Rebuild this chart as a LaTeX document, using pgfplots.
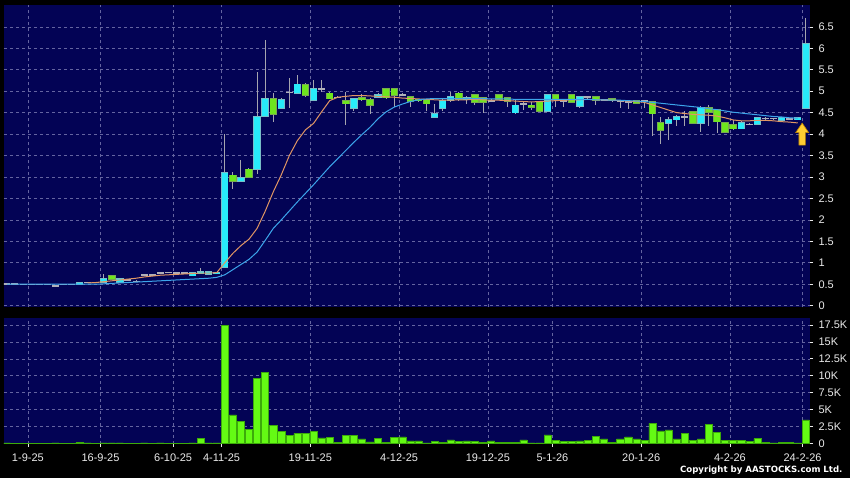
\documentclass[border=0pt]{standalone}
\usepackage{pgfplots}
\pgfplotsset{compat=1.18}
\usepackage{pgfplotstable}
\usepackage{fontspec}
\setmainfont{Liberation Sans}
\newfontfamily\cfont{DejaVu Sans}

\definecolor{panelbg}{RGB}{3,3,85}
\definecolor{gridc}{RGB}{100,100,160}
\definecolor{cyanf}{RGB}{40,235,250}
\definecolor{cyanb}{RGB}{120,190,200}
\definecolor{greenf}{RGB}{110,230,30}
\definecolor{greenb}{RGB}{120,170,80}
\definecolor{wick}{RGB}{165,165,175}
\definecolor{doji}{RGB}{175,175,185}
\definecolor{maor}{RGB}{225,150,100}
\definecolor{mabl}{RGB}{60,165,235}
\definecolor{vgreen}{RGB}{100,250,20}
\definecolor{vborder}{RGB}{60,170,10}
\definecolor{arrowf}{RGB}{255,205,50}
\definecolor{arrowd}{RGB}{190,130,0}
\definecolor{ticktext}{RGB}{235,235,235}

\pgfdeclareplotmark{uparrow}{%
  \pgfpathmoveto{\pgfpoint{0pt}{11pt}}%
  \pgfpathlineto{\pgfpoint{6.5pt}{1.5pt}}%
  \pgfpathlineto{\pgfpoint{3.2pt}{1.5pt}}%
  \pgfpathlineto{\pgfpoint{3.2pt}{-11pt}}%
  \pgfpathlineto{\pgfpoint{-3.2pt}{-11pt}}%
  \pgfpathlineto{\pgfpoint{-3.2pt}{1.5pt}}%
  \pgfpathlineto{\pgfpoint{-6.5pt}{1.5pt}}%
  \pgfpathclose
  \pgfusepathqfillstroke
}

\pgfplotsset{
  chartbase/.style={
    scale only axis, width=806pt,
    xmin=-3.36, xmax=96.52,
    axis background/.style={fill=panelbg},
    axis line style={draw=none},
    grid=major,
    major grid style={gridc, dash pattern=on 3pt off 3pt, line width=0.6pt},
    xtick={-0.4,8.6,17.6,23.6,34.6,45.6,56.6,64.6,75.6,86.6,95.6},
    ytick pos=right, yticklabel pos=right,
    tick align=outside, major tick length=3pt,
    tick style={ticktext, line width=0.7pt},
    tick label style={font=\fontsize{11}{12}\selectfont, text=ticktext},
    yticklabel style={xshift=2pt},
    /pgf/number format/assume math mode=true,
  },
  body/.style 2 args={draw=none, mark=none, forget plot,
    error bars/.cd, y dir=both, y explicit, error mark=none,
    error bar style={draw=#1, line width=#2}},
}

% candles: index, open, high, low, close
\pgfplotstableread{
i o h l c
6 0.50 0.55 0.50 0.54
9 0.55 0.74 0.55 0.62
11 0.55 0.62 0.55 0.62
20 0.70 0.76 0.70 0.76
21 0.76 0.88 0.76 0.78
22 0.74 0.78 0.74 0.78
23 0.76 0.78 0.76 0.77
24 0.90 4.00 0.88 3.10
26 2.91 3.40 2.90 2.98
28 3.18 5.45 3.07 4.40
29 4.42 6.20 4.40 4.83
31 4.60 4.85 4.58 4.79
33 4.96 5.37 4.95 5.16
35 4.79 5.27 4.78 5.06
40 4.60 4.84 4.55 4.83
43 4.87 4.95 4.85 4.92
50 4.40 4.71 4.40 4.48
51 4.60 4.83 4.55 4.77
52 4.79 4.98 4.74 4.87
54 4.81 4.89 4.71 4.85
60 4.50 4.79 4.48 4.67
64 4.54 4.93 4.52 4.91
68 4.65 4.89 4.61 4.87
79 4.25 4.40 3.86 4.34
80 4.34 4.45 4.20 4.40
83 4.26 4.66 4.05 4.62
88 4.13 4.30 4.12 4.27
90 4.23 4.40 4.21 4.38
93 4.33 4.39 4.32 4.38
95 4.34 4.39 4.33 4.38
96 4.60 6.70 4.58 6.11
}\up

\pgfplotstableread{
i o h l c
10 0.69 0.70 0.60 0.62
25 3.04 3.12 2.73 2.91
27 3.18 3.22 2.98 2.99
30 4.83 4.95 4.29 4.46
34 5.14 5.20 4.87 4.91
37 4.95 4.97 4.82 4.83
39 4.77 4.98 4.21 4.71
41 4.85 4.93 4.78 4.81
42 4.79 4.85 4.48 4.67
44 5.06 5.08 4.83 4.85
45 5.06 5.08 4.64 4.91
47 4.87 4.90 4.64 4.77
48 4.81 4.83 4.76 4.79
49 4.79 4.81 4.54 4.71
53 4.95 4.97 4.78 4.81
55 4.91 4.92 4.67 4.75
56 4.84 4.86 4.50 4.74
58 4.91 4.93 4.80 4.81
59 4.85 4.87 4.64 4.77
62 4.67 4.74 4.56 4.63
63 4.75 4.77 4.54 4.54
65 4.91 4.92 4.64 4.81
67 4.91 4.92 4.72 4.74
70 4.87 4.89 4.68 4.80
72 4.83 4.85 4.76 4.78
75 4.78 4.80 4.70 4.73
77 4.75 4.77 3.95 4.48
78 4.26 4.40 3.78 4.09
82 4.52 4.54 4.26 4.26
84 4.62 4.67 4.20 4.52
85 4.56 4.58 4.02 4.29
86 4.26 4.28 4.05 4.05
87 4.22 4.32 4.10 4.13
}\down

\pgfplotstableread{
i o h l c
-3 0.51 0.52 0.50 0.51
-2 0.51 0.52 0.50 0.51
-1 0.50 0.50 0.50 0.50
0 0.50 0.50 0.50 0.50
1 0.50 0.51 0.49 0.50
2 0.50 0.50 0.50 0.50
3 0.47 0.47 0.46 0.47
4 0.50 0.50 0.50 0.50
5 0.50 0.50 0.50 0.50
7 0.545 0.55 0.54 0.545
8 0.545 0.56 0.54 0.545
12 0.60 0.60 0.60 0.60
13 0.57 0.60 0.55 0.57
14 0.72 0.74 0.70 0.72
15 0.72 0.72 0.71 0.72
16 0.76 0.76 0.76 0.76
17 0.78 0.78 0.78 0.78
18 0.77 0.77 0.77 0.77
19 0.77 0.78 0.77 0.77
32 4.97 5.30 4.60 4.97
36 5.05 5.27 4.98 5.05
38 4.86 4.88 4.84 4.86
46 4.91 4.95 4.88 4.91
57 4.77 4.81 4.74 4.77
61 4.71 4.74 4.56 4.71
66 4.78 4.81 4.64 4.78
69 4.87 4.88 4.83 4.87
71 4.80 4.82 4.78 4.80
73 4.77 4.78 4.62 4.77
74 4.76 4.77 4.58 4.76
76 4.77 4.78 4.60 4.77
81 4.40 4.53 4.18 4.40
89 4.23 4.26 4.21 4.23
91 4.37 4.40 4.34 4.37
92 4.37 4.38 4.33 4.37
94 4.36 4.38 4.34 4.36
}\dojis

% moving averages (orange m1, blue m2)
\pgfplotstableread{
i m1 m2
-3 nan 0.50
0 nan 0.50
6 nan 0.50
7 0.53 0.50
8 0.54 0.50
9 0.56 0.51
10 0.58 0.52
11 0.60 0.53
12 0.62 0.54
13 0.64 0.55
14 0.67 0.56
15 0.69 0.57
16 0.71 0.58
17 0.72 0.59
18 0.73 0.60
19 0.74 0.61
20 0.75 0.62
21 0.76 0.63
22 0.76 0.64
23 0.77 0.66
24 1.00 0.72
25 1.22 0.84
26 1.40 0.96
27 1.55 1.08
28 1.80 1.25
29 2.20 1.52
30 2.65 1.80
31 3.05 2.00
32 3.50 2.21
33 3.85 2.42
34 4.10 2.62
35 4.25 2.82
36 4.52 3.03
37 4.78 3.24
38 4.86 3.43
39 4.88 3.62
40 4.90 3.81
41 4.90 3.99
42 4.89 4.16
43 4.88 4.36
44 4.87 4.52
45 4.86 4.63
46 4.84 4.70
47 4.83 4.76
48 4.82 4.80
49 4.81 4.82
50 4.80 4.83
51 4.79 4.83
52 4.79 4.83
53 4.80 4.83
54 4.80 4.83
55 4.81 4.83
56 4.80 4.83
57 4.79 4.82
58 4.79 4.82
59 4.78 4.82
60 4.77 4.81
61 4.76 4.81
62 4.75 4.81
63 4.76 4.81
64 4.77 4.81
65 4.78 4.81
66 4.79 4.81
67 4.80 4.81
68 4.80 4.81
69 4.81 4.81
70 4.80 4.80
71 4.80 4.80
72 4.79 4.79
73 4.78 4.79
74 4.77 4.78
75 4.76 4.77
76 4.74 4.76
77 4.68 4.74
78 4.62 4.72
79 4.56 4.70
80 4.50 4.68
81 4.48 4.66
82 4.46 4.64
83 4.45 4.62
84 4.44 4.59
85 4.42 4.57
86 4.38 4.54
87 4.33 4.51
88 4.31 4.49
89 4.31 4.47
90 4.32 4.45
91 4.32 4.43
92 4.31 4.41
93 4.29 4.40
94 4.28 4.38
95 4.26 4.37
}\ma

% volume in thousands
\pgfplotstableread{
i v
-3 0.05
-2 0.03
-1 0.02
0 0.03
1 0.02
2 0.02
3 0.05
4 0.02
5 0.02
6 0.10
7 0.05
8 0.04
9 0.08
10 0.06
11 0.05
12 0.02
13 0.04
14 0.06
15 0.04
16 0.05
17 0.04
18 0.03
19 0.03
20 0.08
21 0.74
22 0.05
23 0.05
24 17.45
25 4.20
26 3.30
27 2.10
28 9.64
29 10.50
30 2.70
31 1.72
32 1.18
33 1.48
34 1.48
35 1.78
36 0.79
37 0.89
38 0.10
39 1.23
40 1.18
41 0.64
42 0.20
43 0.74
44 0.15
45 0.89
46 0.94
47 0.35
48 0.35
49 0.05
50 0.25
51 0.10
52 0.50
53 0.30
54 0.35
55 0.30
56 0.10
57 0.35
58 0.15
59 0.10
60 0.15
61 0.50
62 0.05
63 0.05
64 1.25
65 0.40
66 0.25
67 0.25
68 0.35
69 0.40
70 1.05
71 0.65
72 0.15
73 0.65
74 0.95
75 0.65
76 0.45
77 2.95
78 1.85
79 2.00
80 0.65
81 1.50
82 0.40
83 0.65
84 2.75
85 1.60
86 0.40
87 0.40
88 0.40
89 0.30
90 0.70
91 0.15
92 0.05
93 0.15
94 0.10
95 0.05
96 3.45
}\vol

\pgfplotstableread{
x y
95.55 4.0
}\arrowpos

\begin{document}
\begin{tikzpicture}
\fill[black] (0pt,0pt) rectangle (850pt,478pt);

% ---------- volume panel ----------
\begin{axis}[chartbase, name=volax,
  at={(4pt,34pt)}, anchor=south west, height=125.7pt,
  ymin=-0.1, ymax=18.49,
  ytick={0,2.5,5,7.5,10,12.5,15,17.5},
  yticklabels={0,2.5K,5K,7.5K,10K,12.5K,15K,17.5K},
  xtick pos=bottom,
  xticklabel style={yshift=-3pt},
  xticklabels={1-9-25,16-9-25,6-10-25,4-11-25,19-11-25,4-12-25,19-12-25,5-1-26,20-1-26,4-2-26,24-2-26},
]
\addplot[ybar, bar width=0.88, fill=vgreen, draw=vborder, line width=0.5pt]
  table[x=i, y=v] {\vol};
\end{axis}

% ---------- price panel ----------
\begin{axis}[chartbase, name=priceax,
  at={(4pt,170.5pt)}, anchor=south west, height=302.5pt,
  ymin=-0.042, ymax=7.01,
  ytick={0,0.5,1,1.5,2,2.5,3,3.5,4,4.5,5,5.5,6,6.5},
  yticklabels={0,0.5,1,1.5,2,2.5,3,3.5,4,4.5,5,5.5,6,6.5},
  xticklabels={}, x tick style={draw=none},
]
% wicks
\addplot[body={wick}{1pt}] table[x=i, y expr={(\thisrow{h}+\thisrow{l})/2}, y error expr={(\thisrow{h}-\thisrow{l})/2}] {\up};
\addplot[body={wick}{1pt}] table[x=i, y expr={(\thisrow{h}+\thisrow{l})/2}, y error expr={(\thisrow{h}-\thisrow{l})/2}] {\down};
\addplot[body={wick}{1pt}] table[x=i, y expr={(\thisrow{h}+\thisrow{l})/2}, y error expr={(\thisrow{h}-\thisrow{l})/2}] {\dojis};
% up bodies
\addplot[body={cyanb}{7.4pt}] table[x=i, y expr={(\thisrow{o}+\thisrow{c})/2}, y error expr={(\thisrow{c}-\thisrow{o})/2+0.018}] {\up};
\addplot[body={cyanf}{6pt}] table[x=i, y expr={(\thisrow{o}+\thisrow{c})/2}, y error expr={(\thisrow{c}-\thisrow{o})/2}] {\up};
% down bodies
\addplot[body={greenb}{7.4pt}] table[x=i, y expr={(\thisrow{o}+\thisrow{c})/2}, y error expr={(\thisrow{o}-\thisrow{c})/2+0.018}] {\down};
\addplot[body={greenf}{6pt}] table[x=i, y expr={(\thisrow{o}+\thisrow{c})/2}, y error expr={(\thisrow{o}-\thisrow{c})/2}] {\down};
% doji bodies
\addplot[body={doji}{7pt}] table[x=i, y=c, y error expr={0.014}] {\dojis};
% moving averages
\addplot[no marks, color=maor, line width=1pt] table[x=i, y=m1] {\ma};
\addplot[no marks, color=mabl, line width=1pt] table[x=i, y=m2] {\ma};
% arrow
\addplot[only marks, mark=uparrow, mark options={fill=arrowf, draw=arrowd, line width=0.6pt}]
  table[x=x, y=y] {\arrowpos};
\end{axis}

\node[anchor=east, text=white, font=\cfont\bfseries\fontsize{8.6}{10}\selectfont] at (846pt,8pt) {Copyright by AASTOCKS.com Ltd.};

\pgfresetboundingbox
\useasboundingbox (0pt,0pt) rectangle (850pt,478pt);
\end{tikzpicture}
\end{document}
